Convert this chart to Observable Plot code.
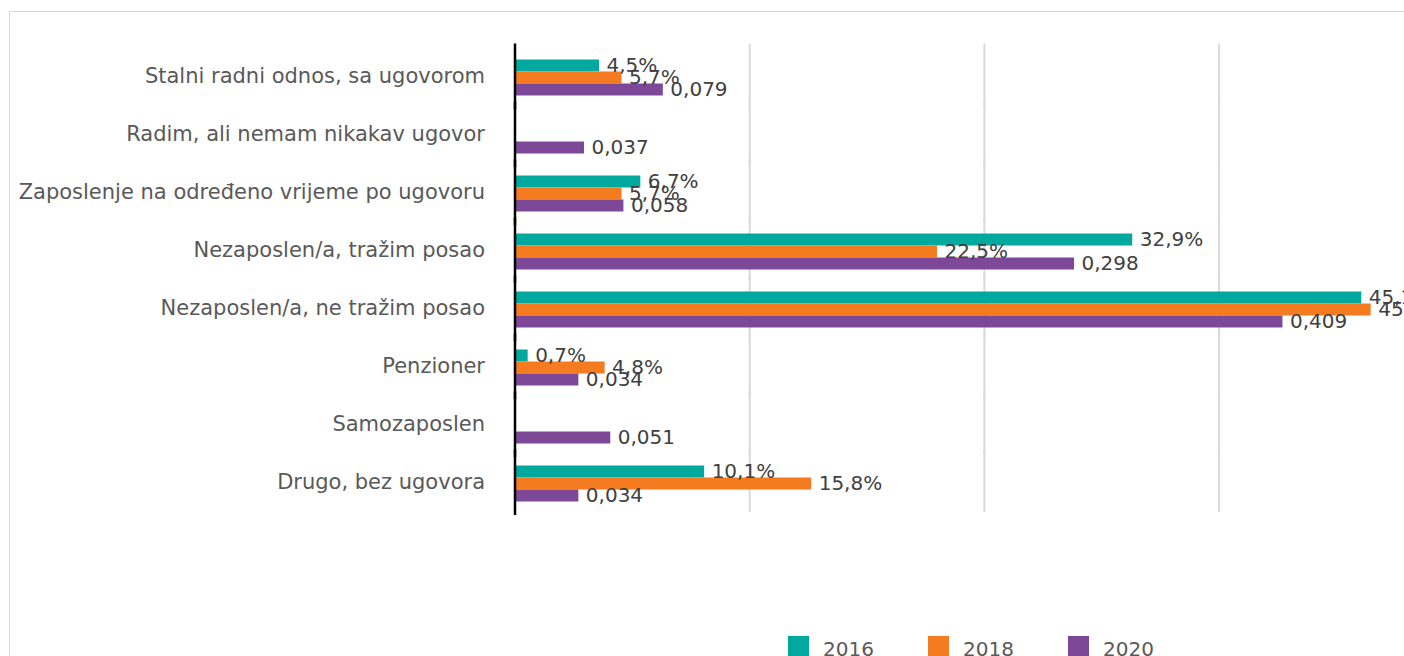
<!DOCTYPE html>
<html>
<head>
<meta charset="utf-8">
<script src="https://cdn.jsdelivr.net/npm/d3@7"></script>
<script src="https://cdn.jsdelivr.net/npm/@observablehq/plot@0.6"></script>
<style>
  html, body { margin: 0; padding: 0; background: #fff; overflow: hidden; }
  #wrap { position: relative; width: 1404px; height: 656px; overflow: hidden; font-family: "DejaVu Sans", sans-serif; }
  #frame { position: absolute; left: 9px; top: 11px; width: 1500px; height: 700px; border: 1px solid #d9d9d9; pointer-events: none; }
  #chart { position: absolute; left: 0; top: 0; }
  #legend { position: absolute; left: 788px; top: 636px; display: flex; }
  .item { display: flex; align-items: flex-start; width: 140px; }
  .sw { width: 21px; height: 21px; margin-right: 14px; }
  .lab { font-size: 20px; color: #595959; line-height: 20px; margin-top: 3px; }
</style>
</head>
<body>
<div id="wrap">
  <div id="chart"></div>
  <div id="legend"></div>
  <div id="frame"></div>
</div>
<script>
const categories = [
  "Stalni radni odnos, sa ugovorom",
  "Radim, ali nemam nikakav ugovor",
  "Zaposlenje na određeno vrijeme po ugovoru",
  "Nezaposlen/a, tražim posao",
  "Nezaposlen/a, ne tražim posao",
  "Penzioner",
  "Samozaposlen",
  "Drugo, bez ugovora"
];
const years = ["2016", "2018", "2020"];
const colors = ["#00A99D", "#F47B20", "#7E4899"];
const v2016 = [0.045, null, 0.067, 0.329, 0.451, 0.007, null, 0.101];
const v2018 = [0.057, null, 0.057, 0.225, 0.456, 0.048, null, 0.158];
const v2020 = [0.079, 0.037, 0.058, 0.298, 0.409, 0.034, 0.051, 0.034];
const gridTicks = [0.125, 0.25, 0.375, 0.5];

const pct = d3.format(".1%");
const dec = d3.format(".3f");
const series = [v2016, v2018, v2020];
const rows = [];
series.forEach((vals, si) => {
  vals.forEach((v, ci) => {
    if (v == null) return;
    const label = (si < 2 ? pct(v) : dec(v)).replace(".", ",");
    rows.push({category: categories[ci], year: years[si], value: v, label});
  });
});

const chart = Plot.plot({
  width: 1404,
  height: 560,
  marginLeft: 514.5,
  marginRight: 0,
  marginTop: 44.5,
  marginBottom: 45.9,
  style: {fontFamily: "DejaVu Sans, sans-serif", fontSize: "21px", color: "#595959", background: "transparent", overflow: "hidden"},
  facet: {data: rows, y: "category"},
  fy: {domain: categories, paddingInner: 0, paddingOuter: 0, axis: "left", tickSize: 0, tickPadding: 30, label: null},
  y: {domain: years, axis: null, paddingInner: 0, paddingOuter: 0.86, align: 0.56},
  x: {domain: [0, 0.5], range: [514.5, 1453.3], axis: null},
  color: {domain: years, range: colors},
  marks: [
    Plot.ruleX(gridTicks, {stroke: "#d9d9d9", strokeWidth: 2, insetTop: -3.5, insetBottom: -1}),
    Plot.barX(rows, {x: "value", y: "year", fill: "year"}),
    Plot.ruleX([0], {stroke: "#000", strokeWidth: 2.5, insetTop: -3.5, insetBottom: -4}),
    Plot.text(rows, {x: "value", y: "year", text: "label", dx: 7, textAnchor: "start", fill: "#404040", fontSize: 20})
  ]
});
document.getElementById("chart").appendChild(chart);

const legend = document.getElementById("legend");
years.forEach((y, i) => {
  const item = document.createElement("div");
  item.className = "item";
  const sw = document.createElement("div");
  sw.className = "sw";
  sw.style.background = colors[i];
  const lab = document.createElement("div");
  lab.className = "lab";
  lab.textContent = y;
  item.appendChild(sw);
  item.appendChild(lab);
  legend.appendChild(item);
});
</script>
</body>
</html>
